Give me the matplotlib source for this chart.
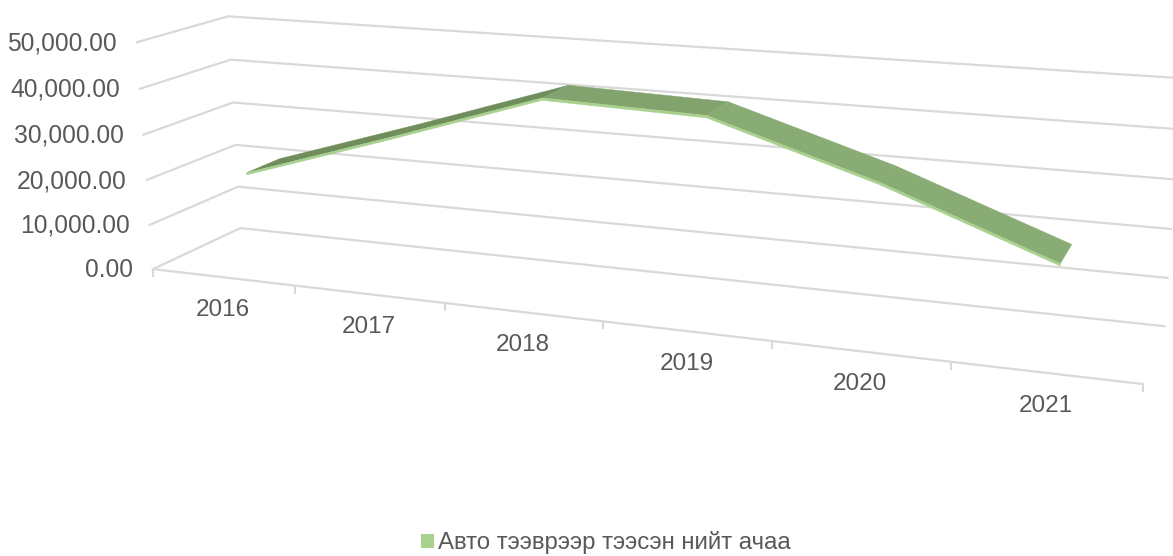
import numpy as np
import matplotlib
matplotlib.use('Agg')
import matplotlib.pyplot as plt
from matplotlib.patches import Patch

plt.rcParams['font.family'] = ['Liberation Sans', 'DejaVu Sans']

years = ['2016', '2017', '2018', '2019', '2020', '2021']
cargo = [20400, 31000, 42000, 41000, 30500, 17800]
y_ticks = [0, 10000, 20000, 30000, 40000, 50000]
y_labels = ['0.00', '10,000.00', '20,000.00', '30,000.00', '40,000.00', '50,000.00']
series_name = 'Авто тээврээр тээсэн нийт ачаа'

W, H = 1173, 556
GRID = '#D9D9D9'
TEXT = '#595959'
Z_FRONT, Z_BACK = 0.33, 0.72
THICK = 500

# pixel positions of the box corners, used to fit the 3d view
front_u = [153, 295, 445, 603, 772, 951, 1143]
anchors = []
for i, u in enumerate(front_u):
    anchors.append((i, 0, 0, u, 269 + 0.1162 * (u - 153)))
for v, p in zip(y_ticks, [(153, 269), (150, 225), (146.5, 180), (143, 135), (140, 89), (137, 42)]):
    anchors.append((0, v, 0, p[0], p[1]))
for v, p in zip(y_ticks, [(240, 228), (238, 187), (236, 145), (233, 102), (231, 60), (228, 16)]):
    anchors.append((0, v, 1, p[0], p[1]))
for v, p in zip(y_ticks, [(1164, 326), (1168, 278), (1171, 229), (1174, 180), (1177.5, 129), (1181, 78)]):
    anchors.append((6, v, 1, p[0], p[1]))

A, b = [], []
for x, v, z, u, w in anchors:
    r = [x, v / 10000, z, 1]
    A.append(r + [0, 0, 0, 0] + [-u * c for c in r[:3]])
    A.append([0, 0, 0, 0] + r + [-w * c for c in r[:3]])
    b += [u, w]
sol = np.linalg.lstsq(np.array(A, float), np.array(b, float), rcond=None)[0]
P = np.append(sol, 1).reshape(3, 4)


def proj(x, v, z):
    q = P @ np.array([x, v / 10000, z, 1])
    return q[0] / q[2], q[1] / q[2]


fig = plt.figure(figsize=(W / 100, H / 100), dpi=100)
ax = fig.add_axes([0, 0, 1, 1])
ax.set_xlim(0, W)
ax.set_ylim(H, 0)
ax.axis('off')

# walls
for v, lab in zip(y_ticks, y_labels):
    pts = [proj(0, v, 0), proj(0, v, 1), proj(6, v, 1)]
    ax.plot(*zip(*pts), color=GRID, lw=1.6, solid_joinstyle='miter')
    ax.text(pts[0][0] - 20, pts[0][1] + 1, lab, ha='right', va='center', fontsize=17.7, color=TEXT)

# category axis
ax.plot(*zip(proj(0, 0, 0), proj(6, 0, 0)), color=GRID, lw=1.6)
for i in range(7):
    u, w = proj(i, 0, 0)
    ax.plot([u, u], [w, w + 7], color=GRID, lw=1.5)
for i, lab in enumerate(years):
    u, w = proj(i + 0.5, 0, 0)
    ax.text(u, w + 33, lab, ha='center', va='center', fontsize=17.5, color=TEXT)

# ribbon
top_cols = ['#6F8E5C', '#6F8E5C', '#83A36E', '#89AB74', '#89AB74']
for i in range(len(cargo) - 1):
    a, c = cargo[i], cargo[i + 1]
    ax.fill(*zip(proj(i + .5, a, Z_FRONT), proj(i + 1.5, c, Z_FRONT),
                 proj(i + 1.5, c, Z_BACK), proj(i + .5, a, Z_BACK)),
            color=top_cols[i], lw=0.3, zorder=3)
    ax.fill(*zip(proj(i + .5, a, Z_FRONT), proj(i + 1.5, c, Z_FRONT),
                 proj(i + 1.5, c - THICK, Z_FRONT), proj(i + .5, a - THICK, Z_FRONT)),
            color='#A9D18E', lw=0.3, zorder=4)

handle = Patch(facecolor='#A9D18E', edgecolor='none')
ax.legend([handle], [series_name], loc='center', bbox_to_anchor=(606 / W, 1 - 543 / H),
          frameon=False, fontsize=17.3, labelcolor=TEXT, handlelength=0.54, handleheight=0.54,
          handletextpad=0.17, borderpad=0)

fig.savefig('out.png', dpi=100)
